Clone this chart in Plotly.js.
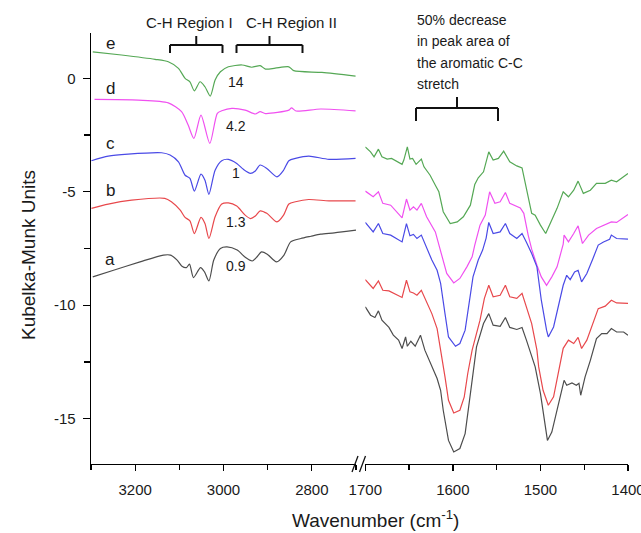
<!DOCTYPE html>
<html>
<head>
<meta charset="utf-8">
<script src="https://cdn.plot.ly/plotly-3.0.1.min.js"></script>
<style>html,body{margin:0;padding:0;background:#fff;}#chart{width:641px;height:533px;}</style>
</head>
<body>
<div id="chart"></div>
<script>
// ---------- DATA (wavenumber cm-1, Kubelka-Munk units) ----------
// Sample e (green)
const eLeftWn  = [3296,3231,3155,3125,3102,3087,3076,3066,3053,3042,3030,3019,3007,2989,2958,2936,2917,2905,2883,2852,2841,2777,2701];
const eLeftY   = [1.17,1.03,0.84,0.73,0.44,0.00,-0.15,-0.55,-0.15,-0.37,-0.78,-0.07,0.29,0.51,0.59,0.49,0.56,0.41,0.45,0.51,0.34,0.26,0.10];
const eRightWn = [1700,1694,1690,1685,1681,1675,1670,1664,1658,1656,1652,1649,1646,1642,1636,1633,1626,1620,1616,1611,1603,1595,1588,1580,1575,1571,1565,1559,1554,1548,1542,1535,1527,1521,1516,1510,1506,1500,1494,1489,1481,1474,1468,1462,1457,1451,1443,1436,1426,1419,1413,1400];
const eRightY  = [-3.02,-3.24,-3.46,-3.12,-3.46,-3.56,-3.53,-3.65,-3.79,-3.60,-3.02,-3.56,-3.53,-3.79,-3.56,-3.90,-4.27,-4.71,-5.00,-5.88,-6.40,-6.33,-6.10,-5.59,-4.68,-4.38,-4.12,-3.24,-3.60,-3.53,-3.21,-3.68,-3.86,-3.95,-4.85,-5.95,-6.03,-6.47,-6.84,-6.40,-5.73,-5.00,-5.22,-4.93,-4.53,-5.07,-4.93,-4.63,-4.63,-4.49,-4.56,-4.19];
// Sample d (magenta)
const dLeftWn  = [3292,3193,3125,3095,3080,3067,3051,3031,3014,3004,2981,2951,2928,2917,2905,2852,2846,2836,2780,2701];
const dLeftY   = [-0.93,-0.96,-1.08,-1.47,-2.06,-2.65,-1.62,-2.87,-1.54,-1.43,-1.32,-1.40,-1.57,-1.47,-1.55,-1.40,-1.30,-1.44,-1.35,-1.43];
const dRightWn = [1700,1691,1685,1680,1671,1664,1658,1653,1649,1645,1641,1636,1630,1620,1614,1607,1599,1592,1584,1578,1575,1569,1563,1558,1552,1546,1540,1535,1523,1519,1514,1510,1504,1499,1493,1487,1481,1474,1473,1468,1462,1457,1452,1445,1436,1424,1419,1413,1400];
const dRightY  = [-4.97,-5.22,-5.00,-5.51,-5.59,-5.88,-6.15,-5.32,-5.81,-5.66,-5.81,-5.51,-6.10,-6.77,-7.57,-8.60,-9.02,-8.82,-8.31,-7.87,-7.35,-6.47,-6.03,-5.00,-5.51,-5.44,-5.03,-5.51,-5.71,-5.95,-6.91,-7.53,-8.24,-8.75,-9.12,-8.75,-8.31,-7.31,-6.91,-7.21,-6.84,-6.50,-7.28,-6.91,-6.62,-6.44,-6.33,-6.35,-6.00];
// Sample c (blue)
const cLeftWn  = [3299,3261,3216,3140,3121,3102,3087,3076,3066,3051,3042,3033,3019,3004,2989,2970,2955,2939,2928,2917,2902,2879,2864,2852,2837,2807,2761,2701];
const cLeftY   = [-3.63,-3.43,-3.34,-3.28,-3.38,-3.68,-4.27,-4.41,-4.97,-4.22,-4.49,-5.11,-4.05,-3.63,-3.57,-3.75,-4.01,-4.19,-4.08,-3.82,-3.97,-4.34,-4.05,-3.63,-3.53,-3.43,-3.57,-3.53];
const cRightWn = [1700,1691,1685,1680,1671,1664,1658,1653,1649,1645,1641,1636,1630,1624,1618,1614,1609,1605,1597,1592,1586,1582,1577,1571,1566,1562,1559,1554,1546,1540,1535,1527,1521,1516,1510,1504,1499,1493,1491,1485,1480,1474,1470,1466,1461,1457,1453,1447,1440,1434,1428,1421,1419,1413,1400];
const cRightY  = [-6.35,-6.77,-6.40,-6.84,-6.91,-7.06,-7.21,-6.40,-6.94,-6.88,-7.06,-6.91,-7.46,-8.01,-8.46,-9.04,-10.37,-11.40,-11.81,-11.69,-11.10,-10.07,-8.75,-8.01,-7.57,-7.04,-6.35,-6.84,-6.77,-6.40,-6.84,-7.06,-6.84,-7.22,-7.72,-8.31,-9.78,-11.10,-11.40,-10.96,-10.07,-9.12,-8.68,-8.87,-8.53,-8.46,-8.97,-8.60,-7.94,-7.35,-7.21,-7.09,-6.91,-7.06,-7.09];
// Sample b (red)
const bLeftWn  = [3299,3261,3208,3133,3118,3098,3087,3076,3066,3051,3042,3033,3019,3004,2989,2970,2951,2939,2928,2917,2902,2879,2864,2852,2837,2807,2761,2701];
const bLeftY   = [-5.73,-5.54,-5.37,-5.29,-5.44,-5.81,-6.13,-6.28,-6.84,-6.13,-6.40,-7.06,-6.10,-5.54,-5.49,-5.63,-6.03,-6.18,-6.07,-5.84,-5.95,-6.33,-6.03,-5.54,-5.44,-5.34,-5.40,-5.40];
const bRightWn = [1700,1691,1685,1680,1673,1668,1658,1653,1649,1645,1641,1636,1630,1624,1618,1613,1609,1605,1599,1592,1587,1583,1578,1569,1564,1559,1554,1546,1540,1535,1527,1521,1516,1510,1504,1502,1497,1491,1485,1480,1474,1468,1462,1457,1453,1447,1440,1434,1426,1419,1413,1400];
const bRightY  = [-8.87,-9.26,-8.93,-9.34,-9.37,-9.46,-9.66,-8.90,-9.41,-9.46,-9.56,-9.34,-9.85,-10.37,-11.03,-12.13,-13.16,-14.19,-14.75,-14.63,-14.04,-13.01,-11.98,-10.66,-9.70,-9.12,-9.63,-9.56,-9.12,-9.63,-9.70,-9.48,-10.07,-10.81,-11.98,-12.72,-13.75,-14.41,-14.04,-13.01,-11.90,-11.54,-11.69,-11.42,-11.91,-11.54,-10.81,-10.15,-10.04,-9.78,-9.90,-9.92];
// Sample a (black)
const aLeftWn  = [3296,3249,3189,3136,3120,3105,3094,3084,3077,3068,3052,3043,3033,3022,3007,2992,2969,2950,2935,2923,2914,2901,2880,2863,2848,2825,2802,2780,2749,2700];
const aLeftY   = [-8.75,-8.46,-8.09,-7.79,-7.79,-8.01,-8.28,-8.34,-8.19,-8.78,-8.34,-8.53,-8.93,-8.01,-7.50,-7.43,-7.57,-7.90,-8.05,-7.84,-7.65,-7.75,-8.09,-7.79,-7.21,-7.06,-6.96,-6.87,-6.81,-6.69];
const aRightWn = [1700,1694,1689,1685,1681,1673,1668,1662,1658,1654,1652,1648,1643,1637,1632,1624,1618,1614,1611,1605,1599,1592,1586,1582,1578,1573,1565,1559,1554,1546,1540,1535,1527,1521,1516,1510,1506,1500,1495,1492,1487,1481,1476,1473,1470,1464,1459,1456,1454,1449,1443,1436,1430,1424,1419,1413,1405,1400];
const aRightY  = [-10.07,-10.44,-10.54,-10.25,-10.66,-10.98,-11.32,-11.54,-11.91,-11.40,-11.81,-11.59,-11.81,-11.32,-11.98,-12.72,-13.23,-13.75,-14.63,-15.96,-16.47,-16.32,-15.66,-14.49,-13.31,-11.84,-10.81,-10.37,-10.88,-10.93,-10.54,-10.98,-11.07,-10.98,-11.54,-12.21,-12.72,-13.89,-15.22,-15.96,-15.59,-14.63,-13.75,-13.31,-13.53,-13.43,-13.53,-13.44,-13.97,-13.16,-12.43,-11.47,-11.25,-11.25,-11.03,-11.18,-11.18,-11.32];

const sampleNames  = ['a','b','c','d','e'];
const sampleRatios = ['0.9','1.3','1','4.2','14'];
const yTickVals = [0, -5, -10, -15];
const yTickText = ['0', '-5', '-10', '-15'];
const xTitle = 'Wavenumber (cm<sup>-1</sup>)';
const yTitle = 'Kubelka-Munk Units';
const regionLabels = ['C-H Region I','C-H Region II'];
const noteLines = ['50% decrease','in peak area of','the aromatic C-C','stretch'];

// ---------- STYLE ----------
const colors = {a:'#4d4d4d', b:'#e8484c', c:'#4a4ae6', d:'#f050f0', e:'#55a855'};
const series = [
  ['e', eLeftWn, eLeftY, eRightWn, eRightY],
  ['d', dLeftWn, dLeftY, dRightWn, dRightY],
  ['c', cLeftWn, cLeftY, cRightWn, cRightY],
  ['b', bLeftWn, bLeftY, bRightWn, bRightY],
  ['a', aLeftWn, aLeftY, aRightWn, aRightY]
];
const traces = [];
series.forEach(s => {
  traces.push({x:s[1], y:s[2], xaxis:'x', yaxis:'y', mode:'lines', line:{color:colors[s[0]], width:1.2, shape:'spline', smoothing:0.7}, hoverinfo:'skip'});
  traces.push({x:s[3], y:s[4], xaxis:'x2', yaxis:'y', mode:'lines', line:{color:colors[s[0]], width:1.2}, hoverinfo:'skip'});
});

// pixel -> paper helpers (plot area: x 91..628, y 33..464)
const L=91, R=628, T=33, B=464;
const px = x => (x-L)/(R-L);
const py = y => (B-y)/(B-T);
const FONT = 'Liberation Sans, Arial, sans-serif';
const txt = '#1a1a1a';

const ann = [];
function label(text, x, y, size, opts) {
  ann.push(Object.assign({text:text, xref:'paper', yref:'paper', x:px(x), y:py(y), showarrow:false,
    xanchor:'center', yanchor:'middle', font:{family:FONT, size:size, color:txt}}, opts||{}));
}
const letterY = {e:43, d:88, c:143, b:190, a:259};
const ratioY  = {e:82, d:126, c:173, b:222, a:266};
sampleNames.forEach((n,i) => {
  label(n, 110, letterY[n], 17);
  label(sampleRatios[i], 236, ratioY[n], 14);
});
label(regionLabels[0], 189, 22, 15);
label(regionLabels[1], 291, 22, 15);
noteLines.forEach((t,i) => label(t, 415, 20+i*21.5, 14, {xanchor:'left'}));
label(xTitle, 375, 519, 19);
label(yTitle, 28, 255, 19, {textangle:-90});

const shapes = [];
function seg(x0,y0,x1,y1,w) {
  shapes.push({type:'line', xref:'paper', yref:'paper', x0:px(x0), y0:py(y0), x1:px(x1), y1:py(y1), line:{color:'#111', width:w||2}});
}
function bracket(xl, xr, yh, yleg, ynub) {
  const xm=(xl+xr)/2;
  seg(xl,yh,xr,yh); seg(xl,yh,xl,yleg); seg(xr,yh,xr,yleg); seg(xm,yh,xm,ynub);
}
bracket(170, 222.5, 45, 53, 36);
bracket(236.5, 302.5, 45, 53, 36);
bracket(416, 498, 108, 121, 97);
seg(352, 472, 358, 456, 1.3);
seg(359.5, 472, 365.5, 456, 1.3);

const axBase = {showline:true, linecolor:'#000', linewidth:1.3, ticks:'outside', ticklen:6, tickwidth:1.3, tickcolor:'#000',
  showgrid:false, zeroline:false, tickfont:{family:FONT, size:15, color:txt}, fixedrange:true, ticklabeloverflow:'allow'};

const layout = {
  width:641, height:533, margin:{l:L, r:641-R, t:T, b:533-B}, paper_bgcolor:'#fff', plot_bgcolor:'rgba(0,0,0,0)',
  showlegend:false,
  xaxis: Object.assign({}, axBase, {domain:[0, px(356)], range:[3300, 2700], tick0:3200, dtick:200, anchor:'y', ticklabelstandoff:6,
    minor:{dtick:100, ticks:'outside', ticklen:5, tickwidth:1.3, tickcolor:'#000'}}),
  xaxis2: Object.assign({}, axBase, {domain:[px(365.3), 1], range:[1700, 1400], tick0:1700, dtick:100, anchor:'y', ticklabelstandoff:6,
    minor:{dtick:50, ticks:'outside', ticklen:5, tickwidth:1.3, tickcolor:'#000'}}),
  yaxis: Object.assign({}, axBase, {domain:[0,1], range:[-17, 2], tickmode:'array', tickvals:yTickVals, ticktext:yTickText,
    anchor:'x', ticklen:7, ticklabelstandoff:4,
    minor:{dtick:2.5, tick0:0, ticks:'outside', ticklen:6, tickwidth:1.3, tickcolor:'#000'}}),
  annotations: ann,
  shapes: shapes
};
Plotly.newPlot('chart', traces, layout, {staticPlot:true, displayModeBar:false});
</script>
</body>
</html>
